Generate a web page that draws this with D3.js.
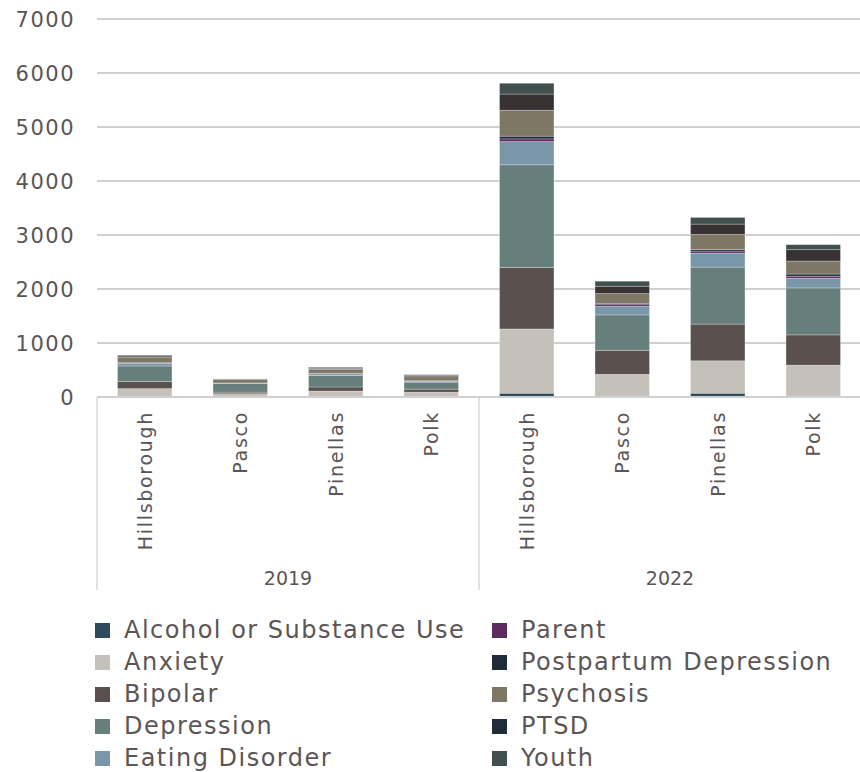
<!DOCTYPE html>
<html>
<head>
<meta charset="utf-8">
<script src="https://cdn.jsdelivr.net/npm/d3@7/dist/d3.min.js"></script>
<style>
  html, body { margin: 0; padding: 0; background: #fff; }
  svg { display: block; }
  text { font-family: "DejaVu Sans", sans-serif; fill: #5c5555; }
</style>
</head>
<body>
<svg id="chart" width="860" height="772"></svg>
<script>
// ---- Data ----
const years = ["2019", "2022"];
const counties = ["Hillsborough", "Pasco", "Pinellas", "Polk"];
const seriesNames = ["Alcohol or Substance Use", "Anxiety", "Bipolar", "Depression", "Eating Disorder",
                     "Parent", "Postpartum Depression", "Psychosis", "PTSD", "Youth"];
const seriesColors = ["#2e4a5f", "#c5c1ba", "#5a504e", "#677f7c", "#7a96a9",
                      "#5c2b5e", "#1f2d3b", "#7f7766", "#393232", "#3f504f"];
// values per bar, order: 2019 Hillsborough, Pasco, Pinellas, Polk, 2022 Hillsborough, Pasco, Pinellas, Polk
const alcohol     = [0,   0,   0,   0,   70,   30,   70,   30];
const anxiety     = [155, 60,  110, 90,  1190, 390,  600,  560];
const bipolar     = [130, 30,  75,  55,  1140, 445,  680,  560];
const depression  = [290, 160, 215, 130, 1900, 655,  1055, 870];
const eating      = [50,  10,  30,  20,  430,  160,  260,  180];
const parent      = [5,   0,   5,   3,   50,   30,   37,   37];
const postpartum  = [5,   0,   5,   3,   50,   25,   31,   40];
const psychosis   = [105, 65,  70,  75,  480,  180,  278,  241];
const ptsd        = [20,  5,   20,  25,  300,  136,  191,  210];
const youth       = [15,  5,   20,  12,  200,  93,   123,  93];
const yTicks = [0, 1000, 2000, 3000, 4000, 5000, 6000, 7000];

const seriesValues = [alcohol, anxiety, bipolar, depression, eating, parent, postpartum, psychosis, ptsd, youth];

// build rows
const rows = [];
years.forEach((yr, yi) => counties.forEach((c, ci) => {
  const idx = yi * counties.length + ci;
  const row = { key: yr + "|" + c, year: yr, county: c };
  seriesNames.forEach((s, si) => row[s] = seriesValues[si][idx]);
  rows.push(row);
}));

const svg = d3.select("#chart");
const plotL = 97, plotR = 861, plotT = 19, plotB = 397;

const x = d3.scaleBand().domain(rows.map(r => r.key)).range([plotL, plotR])
  .paddingInner(0.43).paddingOuter(0.215);
const y = d3.scaleLinear().domain([0, 7000]).range([plotB, plotT]);
const color = d3.scaleOrdinal().domain(seriesNames).range(seriesColors);

// gridlines
svg.append("g").selectAll("line").data(yTicks).join("line")
  .attr("x1", plotL).attr("x2", 860)
  .attr("y1", d => y(d)).attr("y2", d => y(d))
  .attr("stroke", "#d0d0d0").attr("stroke-width", 2);

// y labels
svg.append("g").selectAll("text").data(yTicks).join("text")
  .attr("x", 75).attr("y", d => y(d)).attr("dy", "0.36em")
  .attr("text-anchor", "end").attr("font-size", 21).attr("letter-spacing", 1.5)
  .text(d => d);

// stacked bars
const stack = d3.stack().keys(seriesNames);
const stacked = stack(rows);
svg.append("g").selectAll("g").data(stacked).join("g")
  .attr("fill", d => color(d.key))
  .selectAll("rect").data(d => d).join("rect")
  .attr("x", d => x(d.data.key))
  .attr("width", x.bandwidth())
  .attr("y", d => y(d[1]))
  .attr("height", d => Math.max(0, y(d[0]) - y(d[1])))
  .attr("stroke", "#ffffff").attr("stroke-opacity", 0.35).attr("stroke-width", 0.75);

// category axis
const axisG = svg.append("g");
axisG.append("line").attr("x1", plotL).attr("x2", 860).attr("y1", plotB).attr("y2", plotB)
  .attr("stroke", "#d0d0d0").attr("stroke-width", 2);
// group separators
const sepX = [plotL, plotL + (plotR - plotL) / 2, plotR];
axisG.selectAll("line.sep").data(sepX).join("line").attr("class", "sep")
  .attr("x1", d => d).attr("x2", d => d).attr("y1", plotB).attr("y2", 590)
  .attr("stroke", "#cfcfcf").attr("stroke-width", 1.2);

// county labels (rotated)
axisG.selectAll("text.cat").data(rows).join("text").attr("class", "cat")
  .attr("transform", d => `translate(${x(d.key) + x.bandwidth() / 2},411) rotate(-90)`)
  .attr("text-anchor", "end").attr("dy", "0.36em").attr("font-size", 19).attr("letter-spacing", 1.7)
  .text(d => d.county);

// year labels
axisG.selectAll("text.yr").data(years).join("text").attr("class", "yr")
  .attr("x", (d, i) => sepX[i] + (sepX[i + 1] - sepX[i]) / 2)
  .attr("y", 585).attr("text-anchor", "middle").attr("font-size", 19)
  .text(d => d);

// legend
const legend = svg.append("g");
const items = legend.selectAll("g").data(seriesNames).join("g")
  .attr("transform", (d, i) => `translate(${i < 5 ? 95 : 492},${631 + (i % 5) * 32})`);
items.append("rect").attr("x", 0).attr("y", -8).attr("width", 15).attr("height", 15)
  .attr("fill", (d, i) => i === 8 ? "#1f2d3b" : color(d));
items.append("text").attr("x", 29).attr("y", 0).attr("dy", "0.3em")
  .attr("font-size", 24).attr("letter-spacing", 1.5).text(d => d);
</script>
</body>
</html>
